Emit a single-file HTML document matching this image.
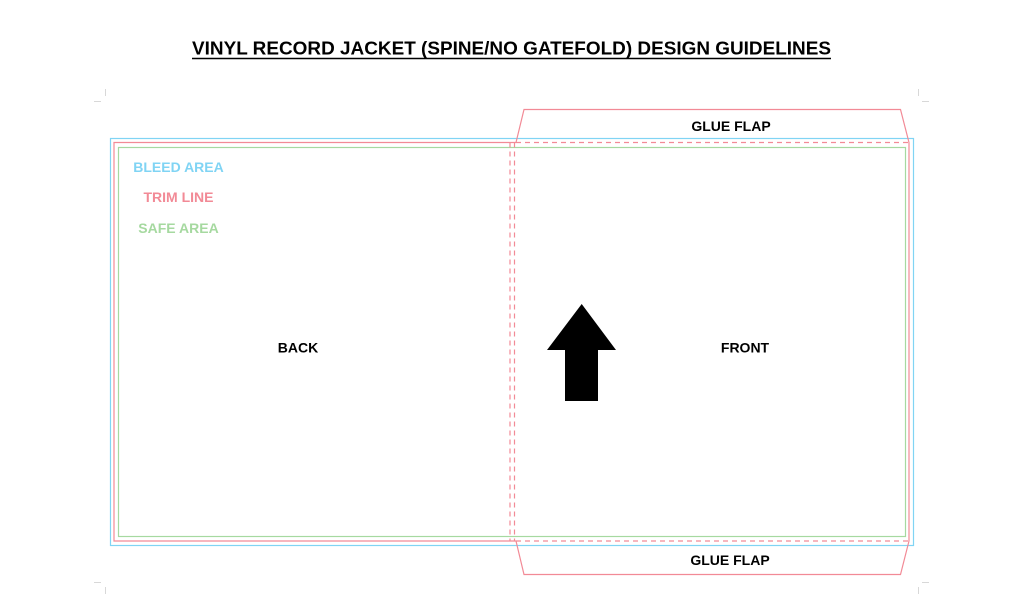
<!DOCTYPE html>
<html><head><style>
html,body{margin:0;padding:0;background:#fff;}
svg{display:block;}
text{font-family:"Liberation Sans",Arial,sans-serif;font-weight:bold;}
</style></head><body>
<svg width="1024" height="598" viewBox="0 0 1024 598" xmlns="http://www.w3.org/2000/svg">
<text x="192" y="54.5" font-size="18.5" textLength="639" lengthAdjust="spacingAndGlyphs" fill="#000">VINYL RECORD JACKET (SPINE/NO GATEFOLD) DESIGN GUIDELINES</text>
<line x1="192" y1="58.5" x2="831" y2="58.5" stroke="#000" stroke-width="1.6"/>
<!-- crop marks -->
<g stroke="#d8d8d8" stroke-width="1">
<line x1="105.5" y1="89" x2="105.5" y2="96"/><line x1="94" y1="101.5" x2="101" y2="101.5"/>
<line x1="918.5" y1="89" x2="918.5" y2="96"/><line x1="922" y1="101.5" x2="929" y2="101.5"/>
<line x1="94" y1="582.5" x2="101" y2="582.5"/><line x1="105.5" y1="587" x2="105.5" y2="594"/>
<line x1="922" y1="582.5" x2="929" y2="582.5"/><line x1="918.5" y1="587" x2="918.5" y2="594"/>
</g>
<rect x="110.5" y="138.5" width="803" height="407" fill="none" stroke="#80d4f4" stroke-width="1.2"/>
<rect x="118.5" y="147.5" width="787" height="389" fill="none" stroke="#a6d9a0" stroke-width="1.2"/>
<g stroke="#f28a96" stroke-width="1.2" fill="none">
<polyline points="516,142.5 114,142.5 114,541 516,541"/>
<line x1="516" y1="142.5" x2="909" y2="142.5" stroke-dasharray="5,4"/>
<line x1="516" y1="541" x2="909" y2="541" stroke-dasharray="5,4"/>
<line x1="909" y1="142.5" x2="909" y2="541"/>
<line x1="510" y1="142.5" x2="510" y2="541" stroke-dasharray="5,4"/>
<line x1="514.5" y1="142.5" x2="514.5" y2="541" stroke-dasharray="5,4"/>
<polyline points="516,142.5 524,109.5 900.5,109.5 909,142.5"/>
<polyline points="516,541 524,574.5 900.5,574.5 909,541"/>
</g>
<text x="731" y="131" font-size="14" text-anchor="middle" fill="#000">GLUE FLAP</text>
<text x="730" y="565" font-size="14" text-anchor="middle" fill="#000">GLUE FLAP</text>
<text x="178.5" y="172" font-size="14" text-anchor="middle" fill="#80d4f4">BLEED AREA</text>
<text x="178.5" y="202" font-size="14" text-anchor="middle" fill="#f28a96">TRIM LINE</text>
<text x="178.5" y="233" font-size="14" text-anchor="middle" fill="#a6d9a0">SAFE AREA</text>
<text x="298" y="352.5" font-size="14" text-anchor="middle" fill="#000">BACK</text>
<text x="745" y="352.5" font-size="14" text-anchor="middle" fill="#000">FRONT</text>
<polygon points="581.7,304 616,350 598,350 598,401 565,401 565,350 547,350" fill="#000"/>
</svg>
</body></html>
